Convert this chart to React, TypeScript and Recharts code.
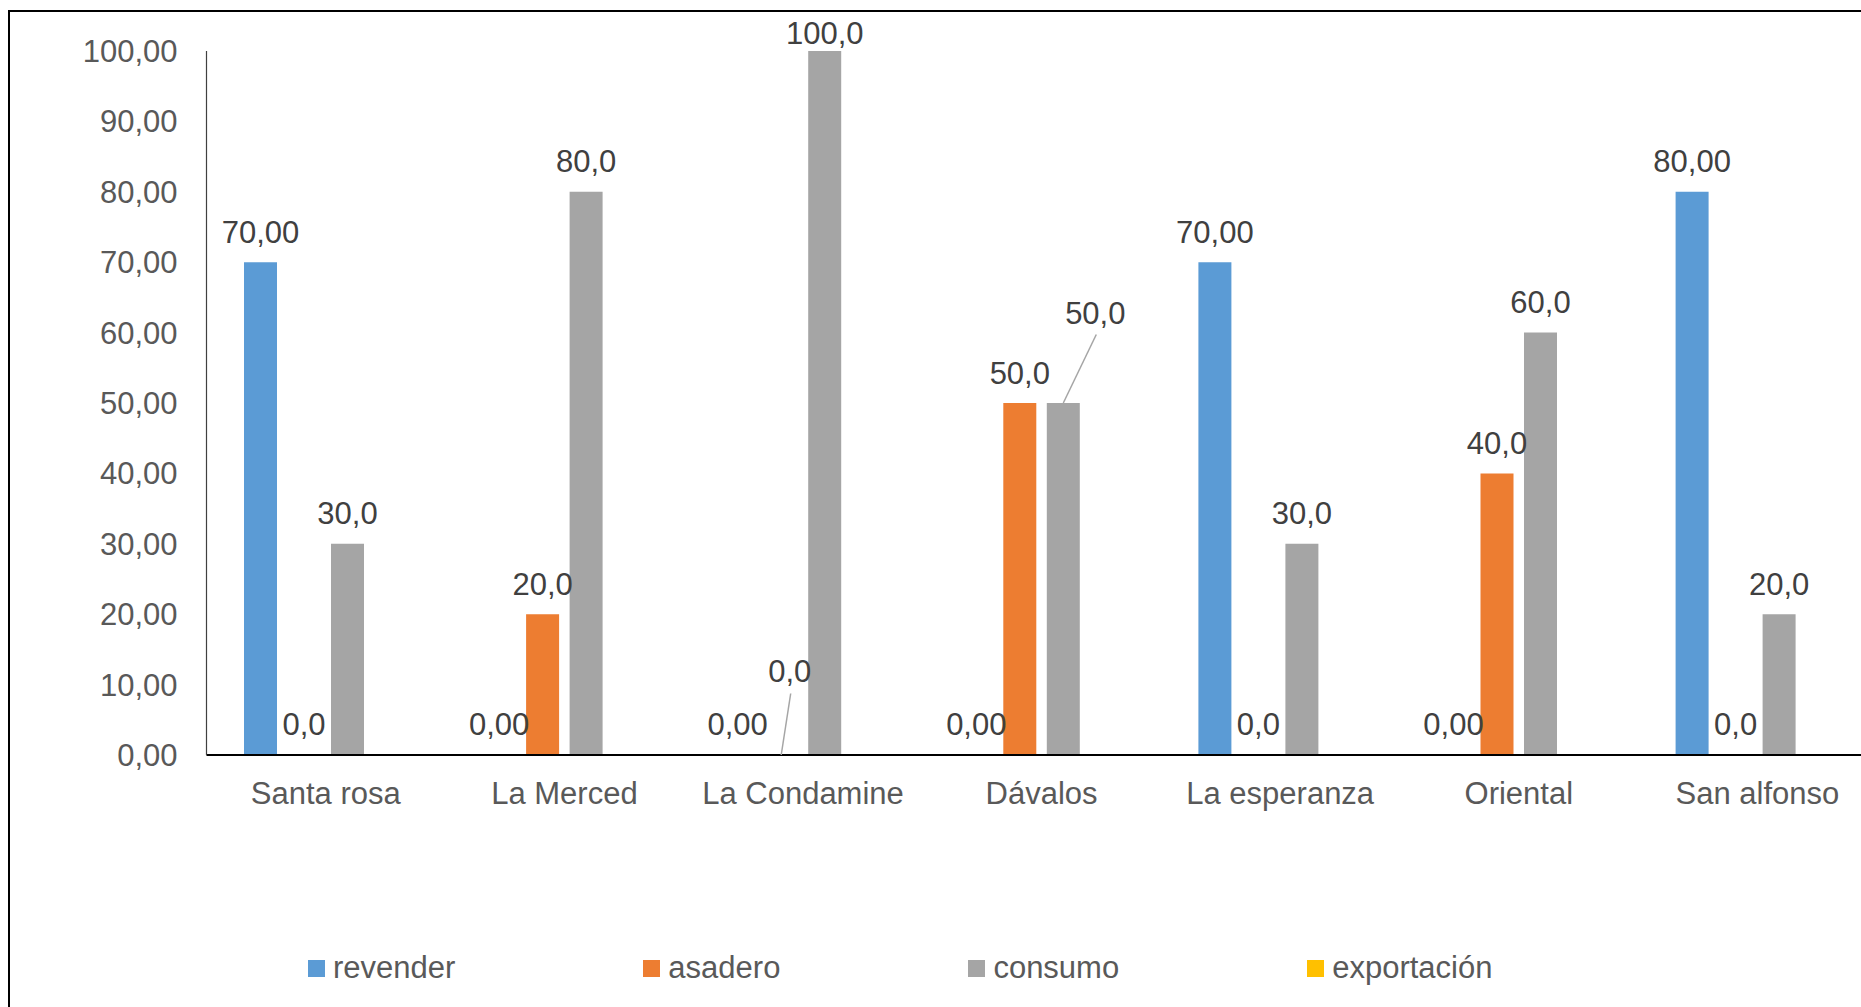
import React from "react";
import { BarChart, Bar, XAxis, YAxis } from "recharts";

const categories = ["Santa rosa", "La Merced", "La Condamine", "Dávalos", "La esperanza", "Oriental", "San alfonso"];
const revender = [70, 0, 0, 0, 70, 0, 80];
const asadero = [0, 20, 0, 50, 0, 40, 0];
const consumo = [30, 80, 100, 50, 30, 60, 20];
const exportacion = [0, 0, 0, 0, 0, 0, 0];
const yTicks = [0, 10, 20, 30, 40, 50, 60, 70, 80, 90, 100];

const series = [
  { key: "revender", name: "revender", color: "#5B9BD5", decimals: 2, labels: true },
  { key: "asadero", name: "asadero", color: "#ED7D31", decimals: 1, labels: true },
  { key: "consumo", name: "consumo", color: "#A5A5A5", decimals: 1, labels: true },
  { key: "exportacion", name: "exportación", color: "#FFC000", decimals: 1, labels: false },
];

// label nudges (style only) for labels moved away from their default spot, with leader lines
const labelNudge: Record<string, { dx: number; dy: number }> = {
  "asadero-La Condamine": { dx: 8.5, dy: -53 },
  "consumo-Dávalos": { dx: 32, dy: -60 },
};

const data = categories.map((c, i) => ({
  name: c,
  revender: revender[i],
  asadero: asadero[i],
  consumo: consumo[i],
  exportacion: exportacion[i],
}));

const FONT = "'Liberation Sans', Arial, sans-serif";
const FS = 31;

const fmt = (v: number, d: number) => v.toFixed(d).replace(".", ",");

function makeLabel(key: string, decimals: number) {
  return (p: any) => {
    const x = Number(p.x);
    const h = Number(p.height);
    const y = Number(p.y);
    const w = Number(p.width);
    const idx = p.index;
    const v = Number(p.value);
    const top = h < 0 ? y + h : y;
    const cx = x + w / 2;
    const cat = categories[idx];
    let ly = Math.max(top - 30, 33);
    let lx = cx;
    const n = labelNudge[`${key}-${cat}`];
    if (n) {
      lx = cx + n.dx;
      ly = top - 30 + n.dy;
      return (
        <g>
          <line x1={cx} y1={top} x2={lx + 1} y2={ly + 21.5} stroke="#A5A5A5" strokeWidth={1.5} />
          <text x={lx} y={ly} textAnchor="middle" dominantBaseline="central" fontFamily={FONT} fontSize={FS} fill="#404040">
            {fmt(v, decimals)}
          </text>
        </g>
      );
    }
    return (
      <text x={lx} y={ly} textAnchor="middle" dominantBaseline="central" fontFamily={FONT} fontSize={FS} fill="#404040">
        {fmt(v, decimals)}
      </text>
    );
  };
}

export default function App() {
  return (
    <div style={{ position: "fixed", left: 0, top: 0, width: 1861, height: 1007, overflow: "hidden", background: "#fff" }}>
      <div
        style={{
          position: "absolute",
          left: 8,
          top: 10,
          width: 3000,
          height: 3000,
          borderLeft: "2px solid #000",
          borderTop: "2px solid #000",
        }}
      />
      <div style={{ position: "absolute", left: 0, top: 0 }}>
        <BarChart
          width={1900}
          height={1007}
          data={data}
          margin={{ top: 51, right: 23.3, left: 0, bottom: 192 }}
          barCategoryGap={37.5}
          barGap={10.5}
        >
          <XAxis
            dataKey="name"
            axisLine={{ stroke: "#000", strokeWidth: 2 }}
            tickLine={false}
            tickSize={0}
            tickMargin={27}
            height={60}
            interval={0}
            tick={{ fontFamily: FONT, fontSize: FS, fill: "#595959" }}
          />
          <YAxis
            width={206.5}
            domain={[0, 100]}
            ticks={yTicks}
            tickFormatter={(v: number) => fmt(v, 2)}
            axisLine={{ stroke: "#404040", strokeWidth: 1.2 }}
            tickLine={false}
            tickSize={0}
            tickMargin={29}
            interval={0}
            tick={{ fontFamily: FONT, fontSize: FS, fill: "#595959" }}
          />
          {series.map((s) => (
            <Bar
              key={s.key}
              dataKey={s.key}
              name={s.name}
              fill={s.color}
              minPointSize={0.01}
              isAnimationActive={false}
              label={s.labels ? makeLabel(s.key, s.decimals) : false}
            />
          ))}
        </BarChart>
      </div>
      <div
        style={{
          position: "absolute",
          left: 308,
          top: 946,
          display: "flex",
          alignItems: "center",
          gap: 188,
          fontFamily: FONT,
          fontSize: FS,
          color: "#595959",
          whiteSpace: "nowrap",
          lineHeight: "44px",
        }}
      >
        {series.map((s) => (
          <div key={s.key} style={{ display: "flex", alignItems: "center" }}>
            <div style={{ width: 17, height: 17, background: s.color, marginRight: 8 }} />
            <span>{s.name}</span>
          </div>
        ))}
      </div>
    </div>
  );
}
